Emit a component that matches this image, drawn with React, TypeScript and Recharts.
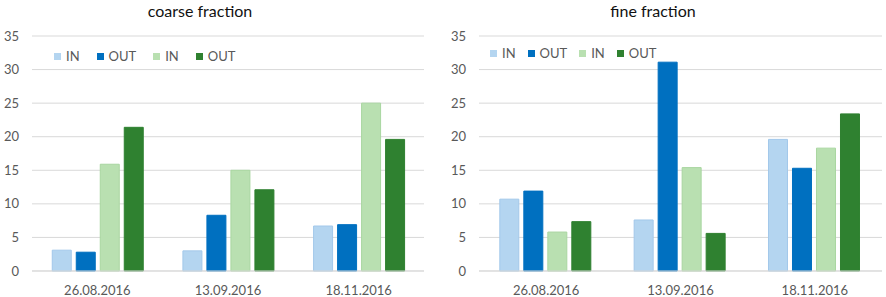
import React from 'react';
import { BarChart, Bar, XAxis, YAxis, CartesianGrid } from 'recharts';

const dates = ['26.08.2016', '13.09.2016', '18.11.2016'];
const yTicks = [0, 5, 10, 15, 20, 25, 30, 35];

const coarseInBlue = [3.1, 3.0, 6.7];
const coarseOutBlue = [2.8, 8.3, 6.9];
const coarseInGreen = [15.9, 15.0, 25.0];
const coarseOutGreen = [21.4, 12.1, 19.6];

const fineInBlue = [10.7, 7.6, 19.6];
const fineOutBlue = [11.9, 31.1, 15.3];
const fineInGreen = [5.8, 15.4, 18.3];
const fineOutGreen = [7.35, 5.6, 23.4];

const seriesNames = ['IN', 'OUT', 'IN', 'OUT'];
const seriesKeys = ['inBlue', 'outBlue', 'inGreen', 'outGreen'];
const seriesColors = ['#B4D5F0', '#0070C0', '#B9E0B1', '#2F8130'];
const seriesStrokes = ['#A2C8EA', '#0070C0', '#A9D6A0', '#2F8130'];

const build = (a: number[], b: number[], c: number[], d: number[]) =>
  dates.map((date, i) => ({ date, inBlue: a[i], outBlue: b[i], inGreen: c[i], outGreen: d[i] }));

const coarseData = build(coarseInBlue, coarseOutBlue, coarseInGreen, coarseOutGreen);
const fineData = build(fineInBlue, fineOutBlue, fineInGreen, fineOutGreen);

const FONT = 'Lato, "Open Sans", sans-serif';
const TXT = '#595959';

const LegendBox = ({ left, top, gap }: { left: number; top: number; gap: number }) => (
  <div
    style={{
      position: 'absolute',
      left,
      top,
      display: 'flex',
      alignItems: 'center',
      fontFamily: FONT,
      fontSize: 13,
      color: TXT,
      lineHeight: '16px',
    }}
  >
    {seriesNames.map((n, i) => (
      <div key={i} style={{ display: 'flex', alignItems: 'center', marginRight: gap }}>
        <span style={{ width: 7, height: 7, background: seriesColors[i], display: 'inline-block', marginRight: 5 }} />
        <span>{n}</span>
      </div>
    ))}
  </div>
);

type PanelProps = {
  title: string;
  data: any[];
  left: number;
  marginLeft: number;
  marginRight: number;
  titleCenter: number;
  legendLeft: number;
  legendTop: number;
  legendGap: number;
};

const Panel = ({ title, data, left, marginLeft, marginRight, titleCenter, legendLeft, legendTop, legendGap }: PanelProps) => (
  <div style={{ position: 'absolute', left, top: 0, width: 443, height: 297 }}>
    <BarChart
      width={443}
      height={297}
      data={data}
      margin={{ top: 36, right: marginRight, bottom: 0, left: 0 }}
      barCategoryGap="15.5%"
      barGap={5}
    >
      <CartesianGrid vertical={false} stroke="#D9D9D9" strokeWidth={1} />
      <XAxis
        dataKey="date"
        axisLine={{ stroke: '#D9D9D9' }}
        tickLine={false}
        tickSize={0}
        tickMargin={15}
        tick={{ fill: TXT, fontSize: 13, fontFamily: FONT }}
        height={26}
      />
      <YAxis
        domain={[0, 35]}
        ticks={yTicks}
        axisLine={false}
        tickLine={false}
        tickSize={0}
        tickMargin={13}
        width={marginLeft}
        tick={{ fill: TXT, fontSize: 13, fontFamily: FONT }}
      />
      {seriesKeys.map((k, i) => (
        <Bar
          key={k}
          dataKey={k}
          name={seriesNames[i]}
          fill={seriesColors[i]}
          stroke={seriesStrokes[i]}
          strokeWidth={1}
          isAnimationActive={false}
        />
      ))}
    </BarChart>
    <div
      style={{
        position: 'absolute',
        left: titleCenter - 100,
        width: 200,
        top: 1,
        textAlign: 'center',
        fontFamily: FONT,
        fontSize: 16,
        color: '#111',
        lineHeight: '20px',
      }}
    >
      {title}
    </div>
    <LegendBox left={legendLeft} top={legendTop} gap={legendGap} />
  </div>
);

export default function App() {
  return (
    <div style={{ position: 'absolute', left: 0, top: 0, width: 886, height: 297, background: '#fff', overflow: 'hidden' }}>
      <Panel
        title="coarse fraction"
        data={coarseData}
        left={0}
        marginLeft={32}
        marginRight={19}
        titleCenter={200}
        legendLeft={54}
        legendTop={48}
        legendGap={17}
      />
      <Panel
        title="fine fraction"
        data={fineData}
        left={443}
        marginLeft={36}
        marginRight={4}
        titleCenter={210}
        legendLeft={47}
        legendTop={45}
        legendGap={12}
      />
    </div>
  );
}
